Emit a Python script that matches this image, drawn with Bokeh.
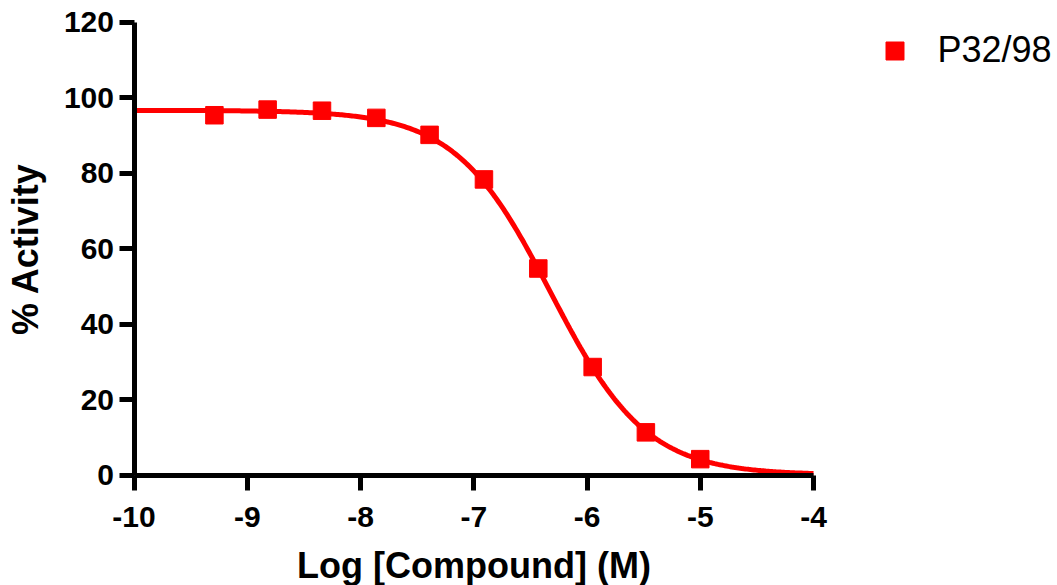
import numpy as np
from bokeh.plotting import figure
from bokeh.models import FixedTicker, Legend, LegendItem, ColumnDataSource
from bokeh.embed import file_html
from bokeh.resources import INLINE

# ---- data ----
log_conc = [-9.29, -8.82, -8.34, -7.86, -7.39, -6.91, -6.43, -5.95, -5.48, -5.00]
activity = [95.3, 96.8, 96.5, 94.6, 90.1, 78.3, 54.7, 28.6, 11.3, 4.2]
series_name = "P32/98"

# fitted dose-response (4-parameter logistic) parameters
fit_top = 96.6
fit_bottom = 0.0
fit_log_ic50 = -6.32
fit_hill = 1.03

x_ticks = [-10, -9, -8, -7, -6, -5, -4]
y_ticks = [0, 20, 40, 60, 80, 100, 120]
x_title = "Log [Compound] (M)"
y_title = "% Activity"

RED = "#FF0000"
FONT = "Liberation Sans"

# ---- layout (page pixels) ----
W, H = 1057, 585
X0_PX, X1_PX = 133.5, 813.0     # where the x axis starts / ends
Y1_PX, Y0_PX = 21.5, 474.5      # where the y axis tops / bottoms

x_lo, x_hi = x_ticks[0], x_ticks[-1]
y_lo, y_hi = y_ticks[0], y_ticks[-1]
ux = (x_hi - x_lo) / (X1_PX - X0_PX)
uy = (y_hi - y_lo) / (Y0_PX - Y1_PX)
x_range = (x_lo - X0_PX * ux, x_hi + (W - X1_PX) * ux)
y_range = (y_lo - (H - Y0_PX) * uy, y_hi + Y1_PX * uy)

curve_x = np.linspace(x_lo, x_hi, 400)
curve_y = fit_bottom + (fit_top - fit_bottom) / (1 + 10 ** (fit_hill * (curve_x - fit_log_ic50)))

pts = ColumnDataSource(dict(x=log_conc, y=activity))
crv = ColumnDataSource(dict(x=curve_x, y=curve_y))

p = figure(width=W, height=H, x_range=x_range, y_range=y_range,
           output_backend="svg", toolbar_location=None,
           min_border_left=0, min_border_right=0, min_border_top=0, min_border_bottom=0)

p.line("x", "y", source=crv, line_color=RED, line_width=5)
sc = p.scatter("x", "y", source=pts, marker="square", size=17.5, fill_color=RED, line_color=RED)

p.xgrid.visible = False
p.ygrid.visible = False
p.outline_line_color = None
p.background_fill_color = "white"
p.border_fill_color = "white"

p.xaxis.ticker = FixedTicker(ticks=x_ticks)
p.yaxis.ticker = FixedTicker(ticks=y_ticks)
p.xaxis.major_label_overrides = {t: str(t) for t in x_ticks}
p.yaxis.major_label_overrides = {t: str(t) for t in y_ticks}
p.xaxis.axis_label = x_title
p.yaxis.axis_label = y_title
p.xaxis.fixed_location = y_lo
p.yaxis.fixed_location = x_lo
p.xaxis.bounds = (x_lo, x_hi)
p.yaxis.bounds = (y_lo, y_hi)

for ax in (p.xaxis[0], p.yaxis[0]):
    ax.axis_line_color = "black"
    ax.axis_line_width = 5
    ax.major_tick_line_color = "black"
    ax.major_tick_line_width = 5
    ax.major_tick_out = 15
    ax.major_tick_in = 0
    ax.minor_tick_line_color = None
    ax.major_label_text_font = FONT
    ax.major_label_text_font_style = "bold"
    ax.major_label_text_font_size = "30px"
    ax.major_label_text_color = "black"
    ax.axis_label_text_font = FONT
    ax.axis_label_text_font_style = "bold"
    ax.axis_label_text_font_size = "36px"
    ax.axis_label_text_color = "black"

p.xaxis.major_label_standoff = 17
p.xaxis.axis_label_standoff = 14
p.yaxis.major_label_standoff = 5
p.yaxis.axis_label_standoff = 15

# legend box: glyph centred near page (894, 50)
legend = Legend(items=[LegendItem(label=series_name, renderers=[sc])],
                location=(871.5, H - 72.5), glyph_width=45, glyph_height=45,
                label_standoff=21, padding=0, margin=0, spacing=0,
                border_line_color=None, background_fill_alpha=0,
                label_text_font=FONT, label_text_font_size="36px",
                label_text_color="black", label_height=45)
p.add_layout(legend)

open("out.html", "w").write(file_html(p, INLINE))
